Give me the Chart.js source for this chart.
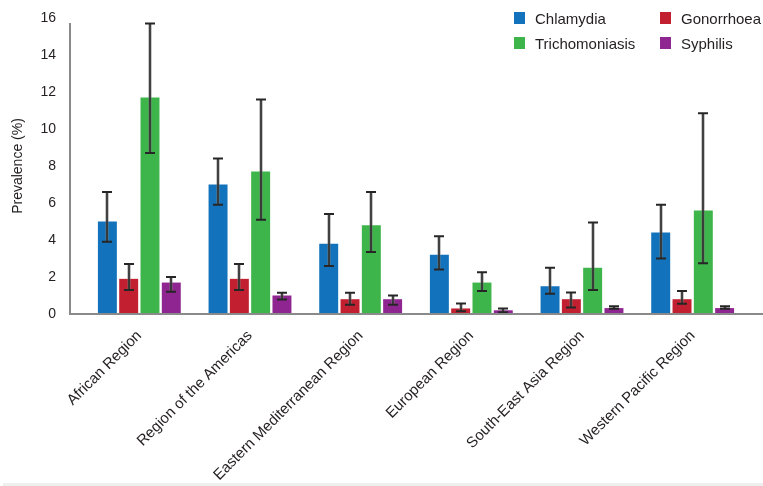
<!DOCTYPE html>
<html>
<head>
<meta charset="utf-8">
<script src="https://cdn.jsdelivr.net/npm/chart.js@4/dist/chart.umd.min.js"></script>
<style>
  html, body { margin: 0; padding: 0; background: #fff; }
  #wrap { position: relative; width: 763px; height: 486px; }
  #chart { position: absolute; left: 0; top: 0; }
  #legend {
    position: absolute; left: 514px; top: 9px;
    display: grid; grid-template-columns: 146px auto; row-gap: 7px;
    font-family: "Liberation Sans", Arial, sans-serif;
    font-size: 15px; color: #231f20;
  }
  .item { display: flex; align-items: center; height: 18px; }
  .sw { width: 11px; height: 12px; margin-right: 10px; }
  #foot { position: absolute; left: 3px; right: 0; bottom: 0; height: 3px; background: #efefef; }
</style>
</head>
<body>
<div id="wrap">
  <canvas id="chart" width="763" height="486"></canvas>
  <div id="legend"></div>
  <div id="foot"></div>
</div>
<script>
// Regions (categories)
const regions = ['African Region', 'Region of the Americas', 'Eastern Mediterranean Region',
                 'European Region', 'South-East Asia Region', 'Western Pacific Region'];

// Prevalence (%) with lower / upper uncertainty bounds
const chlamydia      = [5.0, 7.0, 3.8, 3.2, 1.5, 4.4];
const chlamydiaLow   = [3.9, 5.9, 2.6, 2.4, 1.1, 3.0];
const chlamydiaHigh  = [6.6, 8.4, 5.4, 4.2, 2.5, 5.9];

const gonorrhoea     = [1.9, 1.9, 0.8, 0.3, 0.8, 0.8];
const gonorrhoeaLow  = [1.3, 1.3, 0.5, 0.15, 0.35, 0.55];
const gonorrhoeaHigh = [2.7, 2.7, 1.15, 0.57, 1.16, 1.25];

const trichomoniasis     = [11.7, 7.7, 4.8, 1.7, 2.5, 5.6];
const trichomoniasisLow  = [8.7, 5.1, 3.35, 1.25, 1.3, 2.75];
const trichomoniasisHigh = [15.7, 11.6, 6.6, 2.26, 4.95, 10.85];

const syphilis     = [1.7, 1.0, 0.8, 0.2, 0.32, 0.32];
const syphilisLow  = [1.2, 0.78, 0.5, 0.1, 0.28, 0.28];
const syphilisHigh = [2.0, 1.15, 1.0, 0.3, 0.42, 0.42];

// Axis ticks
const yMin = 0, yMax = 16, yStep = 2;

const seriesNames  = ['Chlamydia', 'Gonorrhoea', 'Trichomoniasis', 'Syphilis'];
const seriesColors = ['#1272bc', '#c21f30', '#3db54a', '#8f2590'];

const FONT = '"Liberation Sans", Arial, sans-serif';
const TEXT = '#231f20';

const values = [chlamydia, gonorrhoea, trichomoniasis, syphilis];
const lows   = [chlamydiaLow, gonorrhoeaLow, trichomoniasisLow, syphilisLow];
const highs  = [chlamydiaHigh, gonorrhoeaHigh, trichomoniasisHigh, syphilisHigh];

const datasets = seriesNames.map((name, i) => ({
  label: name,
  data: values[i],
  errLow: lows[i],
  errHigh: highs[i],
  backgroundColor: seriesColors[i],
  borderWidth: 0,
  categoryPercentage: 0.77,
  barPercentage: 0.89
}));

// Legend in two columns, row-major order
const legendEl = document.getElementById('legend');
[0, 1, 2, 3].forEach(i => {
  const item = document.createElement('div');
  item.className = 'item';
  const sw = document.createElement('span');
  sw.className = 'sw';
  sw.style.background = seriesColors[i];
  item.appendChild(sw);
  item.appendChild(document.createTextNode(seriesNames[i]));
  legendEl.appendChild(item);
});

// Error bars with caps, drawn over each bar
const errorBars = {
  id: 'errorBars',
  afterDatasetsDraw(chart) {
    const ctx = chart.ctx;
    const ys = chart.scales.y;
    ctx.save();
    chart.data.datasets.forEach((ds, i) => {
      const meta = chart.getDatasetMeta(i);
      meta.data.forEach((bar, j) => {
        const x = Math.round(bar.x);
        const yl = ys.getPixelForValue(ds.errLow[j]);
        const yh = ys.getPixelForValue(ds.errHigh[j]);
        ctx.beginPath();
        ctx.moveTo(x, yl); ctx.lineTo(x, yh);
        ctx.strokeStyle = 'rgba(120,120,120,0.8)';
        ctx.lineWidth = 3;
        ctx.stroke();
        ctx.beginPath();
        ctx.moveTo(x, yl); ctx.lineTo(x, yh);
        ctx.strokeStyle = '#262626';
        ctx.lineWidth = 1.5;
        ctx.stroke();
        ctx.beginPath();
        ctx.moveTo(x - 5, yl); ctx.lineTo(x + 5, yl);
        ctx.moveTo(x - 5, yh); ctx.lineTo(x + 5, yh);
        ctx.lineWidth = 2;
        ctx.stroke();
      });
    });
    ctx.restore();
  }
};

// Axis lines, extended slightly beyond the plotting area
const axisLines = {
  id: 'axisLines',
  afterDatasetsDraw(chart) {
    const ctx = chart.ctx;
    const ys = chart.scales.y;
    const area = chart.chartArea;
    const x0 = area.left - 14;
    const y0 = ys.getPixelForValue(yMin);
    ctx.save();
    ctx.strokeStyle = '#8a8a8a';
    ctx.lineWidth = 2;
    ctx.beginPath();
    ctx.moveTo(x0, ys.getPixelForValue(yMax) + 5);
    ctx.lineTo(x0, y0);
    ctx.lineTo(chart.width, y0);
    ctx.stroke();
    ctx.restore();
  }
};

new Chart(document.getElementById('chart'), {
  type: 'bar',
  data: { labels: regions, datasets },
  plugins: [errorBars, axisLines],
  options: {
    responsive: false,
    animation: false,
    layout: { padding: { top: 18, right: 15, left: 0, bottom: 0 } },
    plugins: { legend: { display: false }, tooltip: { enabled: false } },
    scales: {
      x: {
        grid: { display: false, drawTicks: false },
        border: { display: false },
        ticks: {
          autoSkip: false, minRotation: 45, maxRotation: 45,
          padding: 13,
          color: TEXT, font: { family: FONT, size: 15 }
        },
        afterFit(scale) { scale.height = 172; }
      },
      y: {
        min: yMin, max: yMax,
        grid: { display: false, drawTicks: false },
        border: { display: false },
        ticks: { stepSize: yStep, padding: 28, color: TEXT, font: { family: FONT, size: 14 } },
        title: {
          display: true, text: 'Prevalence (%)', color: TEXT,
          font: { family: FONT, size: 14 }, padding: { top: 10, bottom: 0 }
        },
        afterFit(scale) {
          scale.width = 84;
          scale.paddingTop = 0;
          scale.paddingBottom = 0;
        }
      }
    }
  }
});
</script>
</body>
</html>
